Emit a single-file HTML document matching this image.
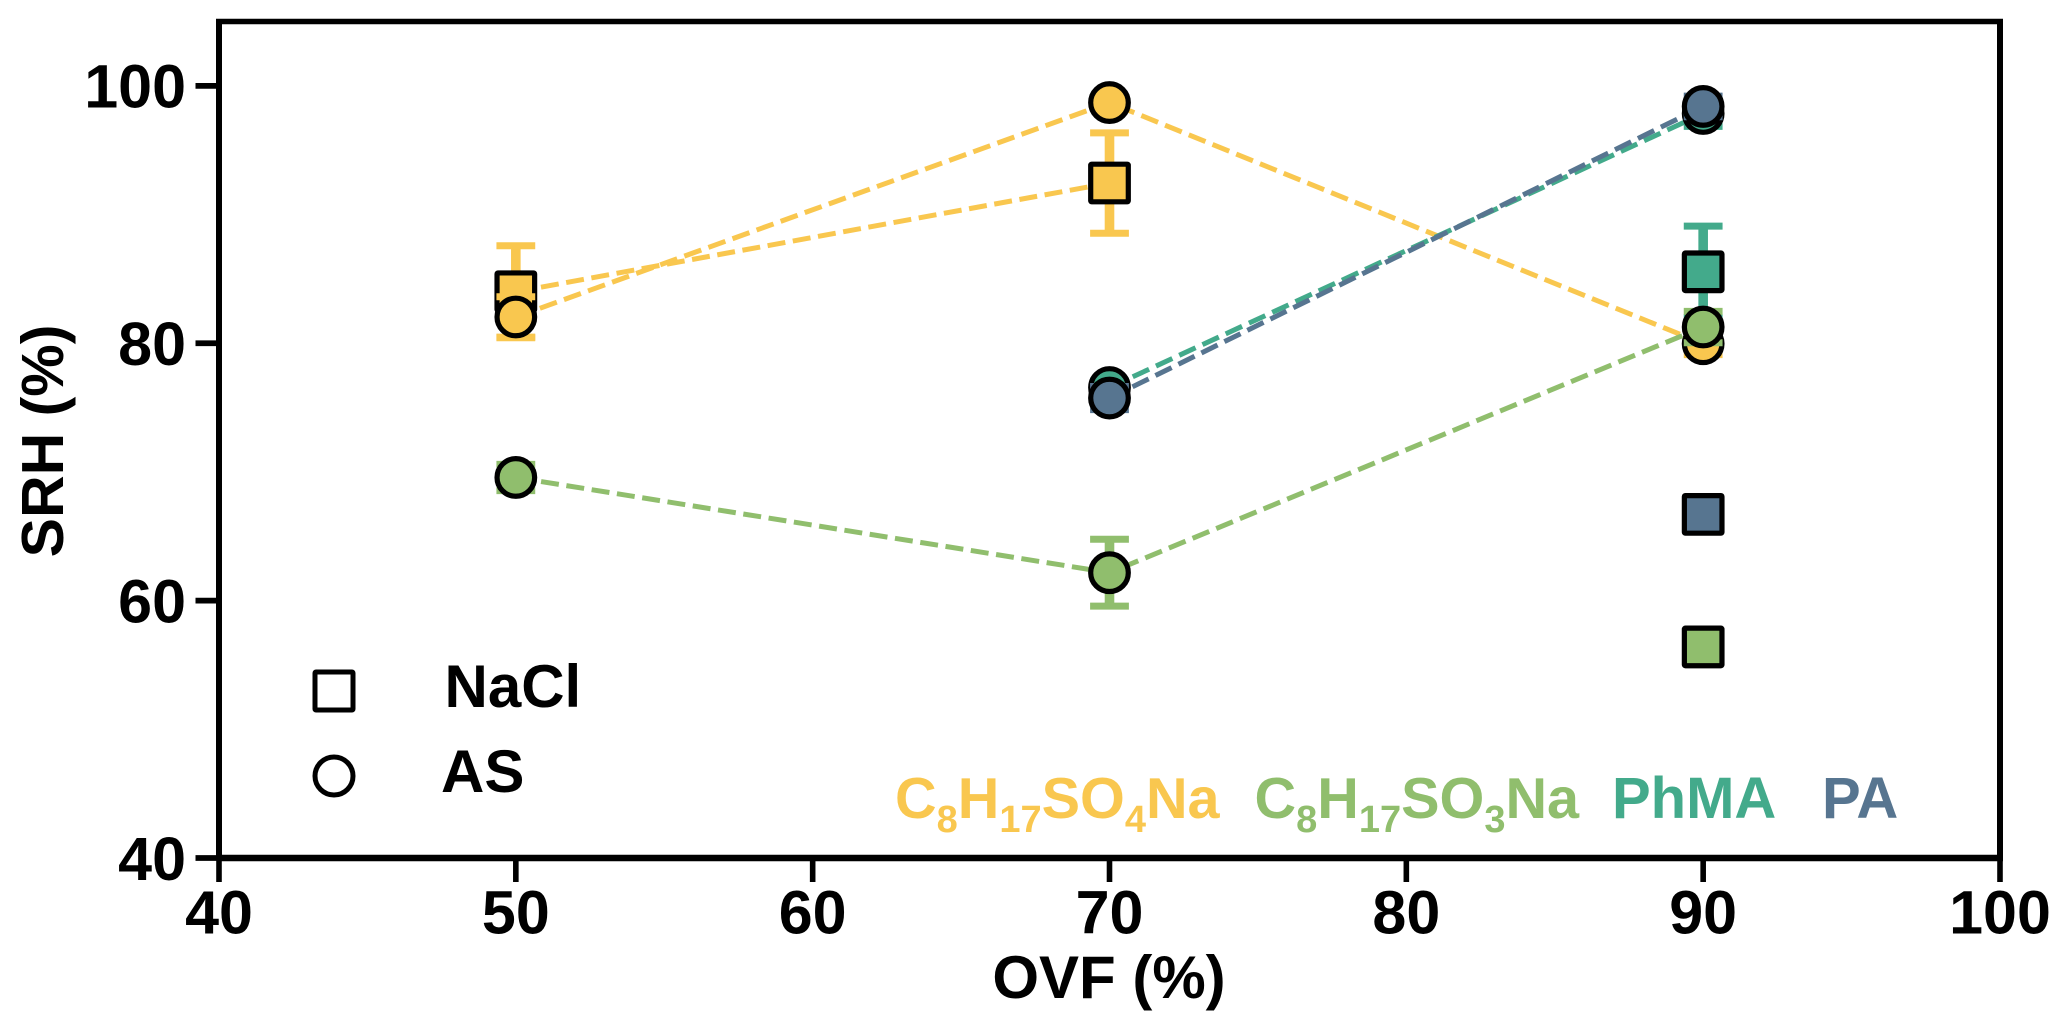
<!DOCTYPE html>
<html lang="en">
<head>
<meta charset="utf-8">
<title>SRH vs OVF</title>
<style>
html,body{margin:0;padding:0;background:#fff;}
svg{display:block;font-family:"Liberation Sans",Arial,sans-serif;font-weight:bold;}
</style>
</head>
<body>
<svg id="chart" xmlns="http://www.w3.org/2000/svg" width="2067" height="1031" viewBox="0 0 2067 1031">
  <rect x="0" y="0" width="2067" height="1031" fill="#ffffff"/>
  <g id="marks"></g>
  <g id="axes"></g>
  <text x="1109" y="998" font-size="60" text-anchor="middle" fill="#000">OVF (%)</text>
  <text transform="translate(63,441) rotate(-90)" font-size="59" text-anchor="middle" fill="#000">SRH (%)</text>

  <g>
    <rect x="315" y="672" width="38" height="38" rx="1" fill="#fff" stroke="#000" stroke-width="5"/>
    <text x="444.5" y="707" font-size="60" fill="#000">NaCl</text>
  </g>
  <g>
    <circle cx="334" cy="776" r="19" fill="#fff" stroke="#000" stroke-width="5"/>
    <text x="441" y="792" font-size="60" fill="#000">AS</text>
  </g>

  <text x="895" y="818" font-size="57.6" fill="#f9c74f">C<tspan font-size="38" dy="14">8</tspan><tspan dy="-14">H</tspan><tspan font-size="38" dy="14">17</tspan><tspan dy="-14">SO</tspan><tspan font-size="38" dy="14">4</tspan><tspan dy="-14">Na</tspan></text>
  <text x="1254.5" y="818" font-size="57.6" fill="#90be6d">C<tspan font-size="38" dy="14">8</tspan><tspan dy="-14">H</tspan><tspan font-size="38" dy="14">17</tspan><tspan dy="-14">SO</tspan><tspan font-size="38" dy="14">3</tspan><tspan dy="-14">Na</tspan></text>
  <text x="1612" y="818" font-size="58" fill="#43aa8b">PhMA</text>
  <text x="1822" y="818" font-size="58" fill="#577590">PA</text>
</svg>
<script>
const xTicks = [40, 50, 60, 70, 80, 90, 100];
const yTicks = [40, 60, 80, 100];
const ovf = [50, 70, 90];

const c8so4NaclValues = [84.0, 92.45, null];
const c8so4NaclErrors = [3.57, 3.9, null];
const c8so4AsValues = [82.04, 98.7, 79.96];
const c8so4AsErrors = [1.57, 0, 0.85];
const c8so3NaclValues = [null, null, 56.4];
const c8so3NaclErrors = [null, null, 0];
const c8so3AsValues = [69.57, 62.17, 81.26];
const c8so3AsErrors = [1.02, 2.6, 1.22];
const phmaNaclValues = [null, null, 85.55];
const phmaNaclErrors = [null, null, 3.55];
const phmaAsValues = [null, 76.56, 97.85];
const phmaAsErrors = [null, 0.5, 1.0];
const paNaclValues = [null, null, 66.7];
const paNaclErrors = [null, null, 0];
const paAsValues = [null, 75.74, 98.4];
const paAsErrors = [null, 0.9, 0.8];

const NS = 'http://www.w3.org/2000/svg';
const X0 = 219, X1 = 2000, Y0 = 858, Y1 = 21.5;
const XMIN = 40, XMAX = 100, YMIN = 40, YMAX = 105;
function xScale(v) { return X0 + (v - XMIN) * (X1 - X0) / (XMAX - XMIN); }
function yScale(v) { return Y0 - (v - YMIN) * (Y0 - Y1) / (YMAX - YMIN); }

function mk(parent, tag, attrs, name) {
  const el = document.createElementNS(NS, tag);
  for (const k in attrs) el.setAttribute(k, attrs[k]);
  
  
  parent.appendChild(el);
  return el;
}

const marks = document.getElementById('marks');
const axes = document.getElementById('axes');

function drawSeries(name, color, shape, values, errors, connect) {
  const g = mk(marks, 'g', {}, name + '-series');
  const pts = [];
  ovf.forEach(function (x, i) {
    if (values[i] !== null) pts.push(xScale(x).toFixed(1) + ',' + yScale(values[i]).toFixed(1));
  });
  if (connect && pts.length > 1) {
    mk(g, 'polyline', {
      points: pts.join(' '), fill: 'none', stroke: color,
      'stroke-width': 5, 'stroke-dasharray': '18 7.6'
    }, name + '-line');
  }
  ovf.forEach(function (x, i) {
    if (values[i] === null) return;
    const cx = xScale(x), v = values[i], e = errors[i];
    if (e > 0) {
      const top = yScale(v + e), bot = yScale(v - e);
      mk(g, 'line', { x1: cx, x2: cx, y1: top, y2: bot, stroke: color, 'stroke-width': 9.6 }, name + '-error-bar-' + x);
      mk(g, 'line', { x1: cx - 19.4, x2: cx + 19.4, y1: top, y2: top, stroke: color, 'stroke-width': 7 }, name + '-error-cap-top-' + x);
      mk(g, 'line', { x1: cx - 19.4, x2: cx + 19.4, y1: bot, y2: bot, stroke: color, 'stroke-width': 7 }, name + '-error-cap-bottom-' + x);
    }
    const cy = yScale(v);
    if (shape === 'square') {
      mk(g, 'rect', { x: cx - 18.8, y: cy - 18.8, width: 37.6, height: 37.6, rx: 1, fill: color, stroke: '#000', 'stroke-width': 5.2 }, name + '-marker-' + x);
    } else {
      mk(g, 'circle', { cx: cx, cy: cy, r: 18.8, fill: color, stroke: '#000', 'stroke-width': 5.2 }, name + '-marker-' + x);
    }
  });
}

drawSeries('c8so4-nacl', '#f9c74f', 'square', c8so4NaclValues, c8so4NaclErrors, true);
drawSeries('c8so4-as', '#f9c74f', 'circle', c8so4AsValues, c8so4AsErrors, true);
drawSeries('phma-nacl', '#43aa8b', 'square', phmaNaclValues, phmaNaclErrors, false);
drawSeries('c8so3-nacl', '#90be6d', 'square', c8so3NaclValues, c8so3NaclErrors, false);
drawSeries('c8so3-as', '#90be6d', 'circle', c8so3AsValues, c8so3AsErrors, true);
drawSeries('phma-as', '#43aa8b', 'circle', phmaAsValues, phmaAsErrors, true);
drawSeries('pa-nacl', '#577590', 'square', paNaclValues, paNaclErrors, false);
drawSeries('pa-as', '#577590', 'circle', paAsValues, paAsErrors, true);

mk(axes, 'line', { x1: X0 - 3, x2: X1 + 3, y1: Y1, y2: Y1, stroke: '#000', 'stroke-width': 5.5 }, 'top-spine');
mk(axes, 'line', { x1: X1, x2: X1, y1: Y1, y2: Y0, stroke: '#000', 'stroke-width': 6 }, 'right-spine');
mk(axes, 'line', { x1: X0, x2: X0, y1: Y1, y2: Y0, stroke: '#000', 'stroke-width': 6 }, 'left-spine');
mk(axes, 'line', { x1: X0, x2: X1 + 3, y1: Y0, y2: Y0, stroke: '#000', 'stroke-width': 6.5 }, 'bottom-spine');

xTicks.forEach(function (t) {
  const x = xScale(t);
  mk(axes, 'line', { x1: x, x2: x, y1: Y0, y2: 882, stroke: '#000', 'stroke-width': 5.6 }, 'x-tick-' + t);
  const label = mk(axes, 'text', { x: x, y: 933.5, 'font-size': 61, 'text-anchor': 'middle', fill: '#000' }, 'x-tick-label-' + t);
  label.textContent = String(t);
});
yTicks.forEach(function (t) {
  const y = yScale(t);
  mk(axes, 'line', { x1: 195.5, x2: X0, y1: y, y2: y, stroke: '#000', 'stroke-width': 5.8 }, 'y-tick-' + t);
  const label = mk(axes, 'text', { x: 186, y: y + 21.8, 'font-size': 61, 'text-anchor': 'end', fill: '#000' }, 'y-tick-label-' + t);
  label.textContent = String(t);
});
</script>
</body>
</html>
